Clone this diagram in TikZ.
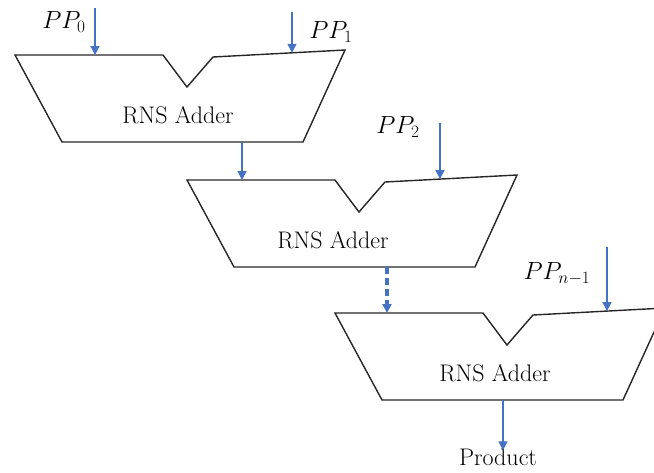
\documentclass[tikz,border=0pt]{standalone}
\usepackage{tikz}
\usetikzlibrary{arrows.meta}

\definecolor{flowblue}{RGB}{68,114,196}

\tikzset{
  adderline/.style={draw=black!85, line width=1.4pt, line join=miter},
  flow/.style={draw=flowblue, line width=1.2pt, -{Triangle[width=9pt,length=9pt]}},
  dashflow/.style={flow, line width=3.2pt, dash pattern=on 7pt off 4pt},
  lbl/.style={font=\fontsize{24}{28}\selectfont, inner sep=0pt},
  mlbl/.style={font=\fontsize{23}{27}\selectfont, inner sep=0pt},
  pics/adder/.style n args={4}{code={
    \draw[adderline] (0,0) coordinate (-tl) -- (148,0) -- (172,32) coordinate (-notch)
      -- (198,2) -- (330,-5) coordinate (-tr) -- (288,87) coordinate (-br)
      -- (47,87) coordinate (-bl) -- cycle;
    \coordinate (-in1) at (#1,0);
    \coordinate (-in2) at (#2,{2-7*(#2-198)/132});
    \coordinate (-out) at (#3,87);
    \node[lbl] (-txt) at (#4,60) {RNS Adder};
  }}
}

\begin{document}
\begin{tikzpicture}[x=1pt, y=-1pt]
  \useasboundingbox (0,0) rectangle (654,472);

  % three adders, stepped down to the right
  \pic (a1) at (15,55) {adder={80}{277}{227}{163}};
  \pic (a2) at (187,180) {adder={55}{253}{200}{146}};
  \pic (a3) at (335,313) {adder={52}{272}{168}{160}};

  % partial product inputs
  \coordinate (s0) at (95,8);
  \coordinate (s1) at (292,12);
  \coordinate (s2) at (440,123);
  \coordinate (s3) at (607,247);
  \node[mlbl] (pp0) at (64,22) {$PP_0$};
  \node[mlbl] (pp1) at (331,32) {$PP_1$};
  \node[mlbl] (pp2) at (398,127) {$PP_2$};
  \node[mlbl] (pp3) at (557,274) {$PP_{n-1}$};

  \draw[flow] (s0) -- (a1-in1);
  \draw[flow] (s1) -- (a1-in2);
  \draw[flow] (s2) -- (a2-in2);
  \draw[flow] (s3) -- (a3-in2);

  % chain
  \draw[flow] (a1-out) -- (a2-in1);
  \draw[dashflow] (a2-out) -- (a3-in1);

  \node[lbl] (prod) at (498,457) {Product};
  \draw[flow] (a3-out) -- ([yshift=-2pt]a3-out |- prod.north);
\end{tikzpicture}
\end{document}
